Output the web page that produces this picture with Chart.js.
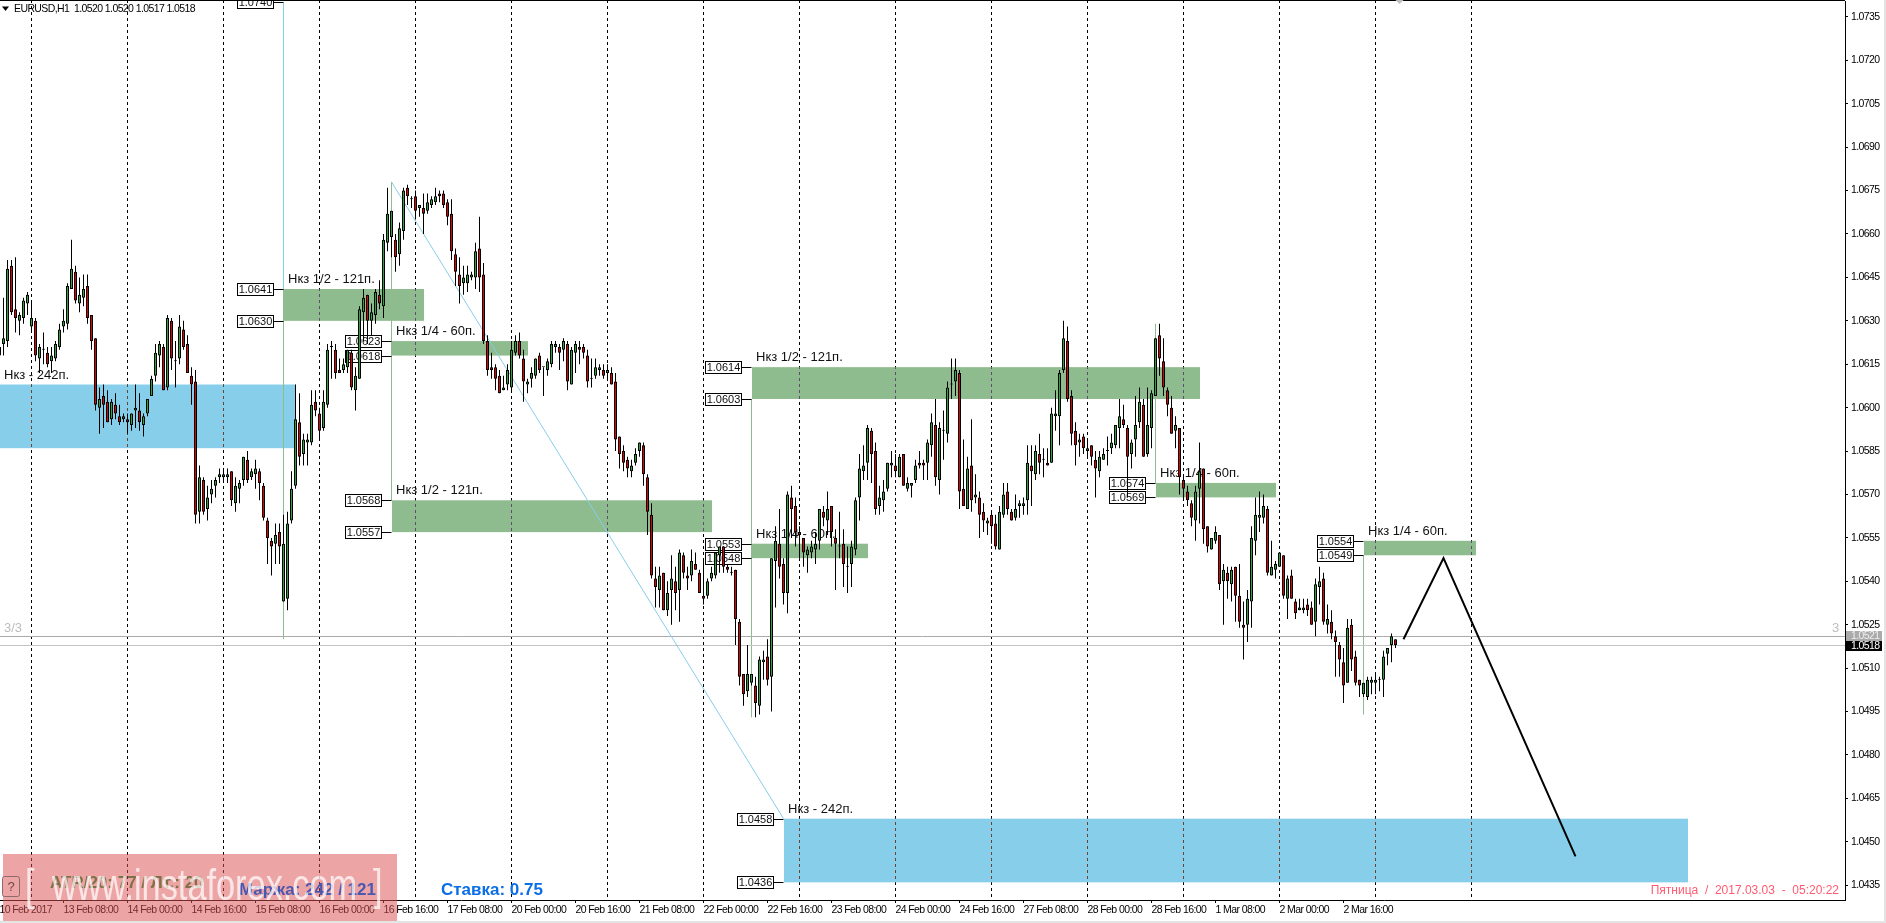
<!DOCTYPE html>
<html><head><meta charset="utf-8">
<style>html,body{margin:0;padding:0;background:#fff;overflow:hidden}canvas{display:block}</style>
<script src="https://cdn.jsdelivr.net/npm/chart.js@4/dist/chart.umd.min.js"></script>
</head><body><canvas id="c" width="1886" height="923"></canvas>
<script>
const opens=[1.0618,1.0622,1.0623,1.0649,1.0634,1.0630,1.0631,1.0636,1.0628,1.0630,
1.0617,1.0620,1.0619,1.0616,1.0617,1.0621,1.0628,1.0629,1.0641,1.0647,
1.0636,1.0638,1.0642,1.0632,1.0624,1.0600,1.0604,1.0602,1.0596,1.0601,
1.0597,1.0596,1.0596,1.0594,1.0599,1.0599,1.0594,1.0598,1.0604,1.0611,
1.0618,1.0621,1.0607,1.0630,1.0616,1.0617,1.0627,1.0622,1.0611,1.0609,
1.0564,1.0575,1.0565,1.0570,1.0573,1.0576,1.0576,1.0576,1.0578,1.0567,
1.0572,1.0575,1.0582,1.0576,1.0577,1.0578,1.0573,1.0561,1.0554,1.0553,
1.0557,1.0533,1.0534,1.0561,1.0573,1.0595,1.0584,1.0588,1.0588,1.0602,
1.0598,1.0593,1.0601,1.0621,1.0620,1.0613,1.0613,1.0614,1.0619,1.0606,
1.0610,1.0633,1.0639,1.0630,1.0632,1.0639,1.0635,1.0657,1.0659,1.0658,
1.0653,1.0661,1.0676,1.0672,1.0673,1.0669,1.0669,1.0668,1.0670,1.0671,
1.0674,1.0674,1.0671,1.0667,1.0653,1.0646,1.0643,1.0643,1.0645,1.0645,
1.0655,1.0646,1.0623,1.0614,1.0614,1.0611,1.0606,1.0608,1.0607,1.0619,
1.0623,1.0617,1.0608,1.0610,1.0611,1.0618,1.0614,1.0613,1.0615,1.0621,
1.0621,1.0620,1.0622,1.0608,1.0619,1.0621,1.0621,1.0618,1.0610,1.0611,
1.0613,1.0613,1.0612,1.0612,1.0609,1.0590,1.0585,1.0582,1.0578,1.0581,
1.0585,1.0587,1.0576,1.0563,1.0541,1.0537,1.0543,1.0530,1.0537,1.0540,
1.0537,1.0549,1.0542,1.0542,1.0546,1.0543,1.0535,1.0535,1.0541,1.0542,
1.0549,1.0552,1.0545,1.0543,1.0544,1.0526,1.0508,1.0502,1.0505,1.0504,
1.0497,1.0512,1.0514,1.0507,1.0547,1.0553,1.0546,1.0536,1.0569,1.0566,
1.0557,1.0555,1.0549,1.0550,1.0551,1.0554,1.0564,1.0561,1.0566,1.0555,
1.0552,1.0553,1.0545,1.0546,1.0551,1.0569,1.0578,1.0581,1.0592,1.0585,
1.0566,1.0568,1.0572,1.0580,1.0580,1.0576,1.0584,1.0572,1.0573,1.0575,
1.0581,1.0581,1.0581,1.0587,1.0594,1.0575,1.0592,1.0591,1.0608,1.0609,
1.0612,1.0572,1.0565,1.0580,1.0569,1.0569,1.0564,1.0560,1.0563,1.0560,
1.0551,1.0563,1.0571,1.0564,1.0562,1.0566,1.0566,1.0568,1.0580,1.0577,
1.0584,1.0582,1.0581,1.0581,1.0597,1.0597,1.0613,1.0623,1.0604,1.0592,
1.0588,1.0590,1.0585,1.0587,1.0582,1.0578,1.0582,1.0585,1.0586,1.0587,
1.0593,1.0596,1.0593,1.0584,1.0589,1.0595,1.0601,1.0584,1.0593,1.0604,
1.0625,1.0616,1.0606,1.0600,1.0592,1.0593,1.0575,1.0571,1.0567,1.0561,
1.0572,1.0579,1.0559,1.0551,1.0554,1.0556,1.0540,1.0543,1.0539,1.0545,
1.0535,1.0525,1.0525,1.0533,1.0554,1.0562,1.0562,1.0565,1.0542,1.0544,
1.0545,1.0549,1.0534,1.0542,1.0533,1.0530,1.0530,1.0532,1.0531,1.0526,
1.0538,1.0541,1.0525,1.0526,1.0521,1.0518,1.0512,1.0505,1.0525,1.0514,
1.0506,1.0501,1.0500,1.0505,1.0505,1.0506,1.0506,1.0515,1.0518,1.0520];
const highs=[1.0621,1.0638,1.0651,1.0651,1.0652,1.0633,1.0638,1.0640,1.0637,1.0631,
1.0622,1.0626,1.0621,1.0621,1.0623,1.0629,1.0634,1.0643,1.0658,1.0649,
1.0645,1.0646,1.0646,1.0632,1.0624,1.0607,1.0608,1.0606,1.0603,1.0605,
1.0601,1.0598,1.0598,1.0598,1.0608,1.0605,1.0598,1.0603,1.0611,1.0622,
1.0623,1.0622,1.0632,1.0631,1.0623,1.0632,1.0630,1.0625,1.0614,1.0613,
1.0580,1.0576,1.0573,1.0575,1.0576,1.0579,1.0579,1.0579,1.0578,1.0576,
1.0575,1.0583,1.0585,1.0579,1.0582,1.0579,1.0574,1.0562,1.0555,1.0560,
1.0560,1.0563,1.0564,1.0578,1.0608,1.0605,1.0591,1.0591,1.0606,1.0606,
1.0600,1.0606,1.0622,1.0623,1.0622,1.0617,1.0617,1.0620,1.0620,1.0614,
1.0635,1.0641,1.0639,1.0636,1.0641,1.0644,1.0660,1.0676,1.0668,1.0660,
1.0664,1.0676,1.0677,1.0673,1.0675,1.0670,1.0674,1.0674,1.0673,1.0676,
1.0675,1.0675,1.0672,1.0672,1.0655,1.0652,1.0649,1.0649,1.0647,1.0657,
1.0666,1.0650,1.0625,1.0619,1.0615,1.0613,1.0611,1.0615,1.0623,1.0625,
1.0626,1.0620,1.0610,1.0614,1.0617,1.0619,1.0614,1.0617,1.0623,1.0623,
1.0622,1.0624,1.0623,1.0621,1.0623,1.0623,1.0622,1.0620,1.0617,1.0617,
1.0615,1.0615,1.0615,1.0614,1.0612,1.0590,1.0587,1.0583,1.0582,1.0586,
1.0588,1.0588,1.0577,1.0567,1.0545,1.0545,1.0543,1.0540,1.0549,1.0545,
1.0551,1.0550,1.0545,1.0551,1.0550,1.0544,1.0547,1.0541,1.0545,1.0550,
1.0552,1.0552,1.0546,1.0545,1.0544,1.0527,1.0508,1.0518,1.0508,1.0507,
1.0514,1.0516,1.0520,1.0548,1.0559,1.0565,1.0548,1.0571,1.0573,1.0569,
1.0559,1.0555,1.0552,1.0554,1.0557,1.0565,1.0566,1.0571,1.0566,1.0558,
1.0564,1.0558,1.0552,1.0554,1.0569,1.0584,1.0587,1.0594,1.0593,1.0588,
1.0573,1.0575,1.0581,1.0585,1.0584,1.0584,1.0584,1.0576,1.0574,1.0582,
1.0585,1.0582,1.0589,1.0598,1.0603,1.0595,1.0599,1.0609,1.0617,1.0617,
1.0613,1.0589,1.0583,1.0596,1.0577,1.0571,1.0567,1.0562,1.0564,1.0563,
1.0566,1.0574,1.0574,1.0565,1.0570,1.0568,1.0569,1.0587,1.0587,1.0587,
1.0591,1.0586,1.0586,1.0600,1.0606,1.0613,1.0630,1.0628,1.0606,1.0595,
1.0591,1.0591,1.0589,1.0587,1.0585,1.0585,1.0586,1.0590,1.0591,1.0594,
1.0603,1.0601,1.0594,1.0589,1.0604,1.0607,1.0603,1.0607,1.0606,1.0624,
1.0629,1.0624,1.0607,1.0604,1.0597,1.0593,1.0577,1.0573,1.0568,1.0573,
1.0588,1.0579,1.0559,1.0555,1.0559,1.0556,1.0546,1.0545,1.0545,1.0545,
1.0546,1.0533,1.0537,1.0559,1.0569,1.0571,1.0570,1.0566,1.0554,1.0547,
1.0550,1.0549,1.0542,1.0544,1.0534,1.0534,1.0534,1.0534,1.0533,1.0541,
1.0545,1.0543,1.0532,1.0530,1.0523,1.0519,1.0517,1.0527,1.0527,1.0516,
1.0506,1.0505,1.0507,1.0507,1.0508,1.0507,1.0516,1.0517,1.0522,1.0520];
const lows=[1.0618,1.0618,1.0621,1.0632,1.0626,1.0625,1.0629,1.0632,1.0626,1.0616,
1.0612,1.0615,1.0614,1.0612,1.0616,1.0620,1.0626,1.0627,1.0641,1.0636,
1.0633,1.0635,1.0629,1.0620,1.0599,1.0591,1.0593,1.0595,1.0594,1.0596,
1.0594,1.0595,1.0591,1.0592,1.0593,1.0592,1.0590,1.0597,1.0604,1.0609,
1.0614,1.0606,1.0606,1.0613,1.0607,1.0615,1.0620,1.0612,1.0601,1.0560,
1.0560,1.0563,1.0561,1.0567,1.0569,1.0574,1.0574,1.0574,1.0566,1.0564,
1.0567,1.0573,1.0574,1.0575,1.0572,1.0568,1.0561,1.0546,1.0542,1.0546,
1.0546,1.0533,1.0530,1.0560,1.0572,1.0580,1.0580,1.0580,1.0587,1.0597,
1.0589,1.0592,1.0600,1.0610,1.0610,1.0612,1.0612,1.0612,1.0606,1.0599,
1.0610,1.0623,1.0622,1.0625,1.0629,1.0634,1.0631,1.0654,1.0652,1.0647,
1.0649,1.0658,1.0670,1.0669,1.0665,1.0666,1.0660,1.0667,1.0669,1.0670,
1.0671,1.0669,1.0663,1.0651,1.0642,1.0636,1.0639,1.0640,1.0644,1.0641,
1.0640,1.0622,1.0611,1.0610,1.0606,1.0605,1.0606,1.0606,1.0606,1.0618,
1.0617,1.0602,1.0605,1.0607,1.0610,1.0612,1.0604,1.0611,1.0614,1.0619,
1.0613,1.0616,1.0606,1.0608,1.0612,1.0615,1.0617,1.0607,1.0607,1.0610,
1.0611,1.0610,1.0610,1.0608,1.0585,1.0579,1.0578,1.0576,1.0576,1.0580,
1.0583,1.0573,1.0556,1.0541,1.0531,1.0531,1.0530,1.0528,1.0525,1.0530,
1.0526,1.0541,1.0537,1.0540,1.0544,1.0536,1.0532,1.0534,1.0540,1.0541,
1.0543,1.0543,1.0543,1.0542,1.0518,1.0504,1.0497,1.0500,1.0504,1.0493,
1.0494,1.0506,1.0504,1.0495,1.0531,1.0541,1.0532,1.0529,1.0555,1.0552,
1.0548,1.0545,1.0543,1.0548,1.0546,1.0551,1.0559,1.0556,1.0552,1.0537,
1.0548,1.0538,1.0536,1.0538,1.0549,1.0561,1.0575,1.0575,1.0574,1.0563,
1.0563,1.0564,1.0571,1.0576,1.0576,1.0576,1.0573,1.0571,1.0569,1.0574,
1.0579,1.0575,1.0575,1.0583,1.0573,1.0570,1.0582,1.0588,1.0603,1.0604,
1.0565,1.0566,1.0565,1.0564,1.0567,1.0555,1.0557,1.0556,1.0553,1.0551,
1.0551,1.0562,1.0563,1.0561,1.0561,1.0562,1.0563,1.0563,1.0566,1.0575,
1.0577,1.0576,1.0580,1.0581,1.0592,1.0587,1.0612,1.0602,1.0587,1.0580,
1.0583,1.0584,1.0583,1.0580,1.0569,1.0576,1.0582,1.0580,1.0584,1.0586,
1.0586,1.0593,1.0569,1.0579,1.0583,1.0593,1.0583,1.0583,1.0586,1.0604,
1.0611,1.0604,1.0597,1.0591,1.0586,1.0570,1.0568,1.0566,1.0559,1.0554,
1.0560,1.0553,1.0550,1.0551,1.0553,1.0537,1.0525,1.0534,1.0533,1.0526,
1.0524,1.0513,1.0519,1.0524,1.0549,1.0557,1.0560,1.0542,1.0542,1.0541,
1.0545,1.0534,1.0527,1.0534,1.0527,1.0530,1.0529,1.0528,1.0525,1.0521,
1.0532,1.0525,1.0522,1.0520,1.0507,1.0507,1.0498,1.0505,1.0509,1.0504,
1.0500,1.0500,1.0499,1.0501,1.0501,1.0502,1.0500,1.0511,1.0512,1.0517];
const closes=[1.0621,1.0624,1.0648,1.0633,1.0631,1.0632,1.0637,1.0639,1.0631,1.0618,
1.0621,1.0620,1.0615,1.0618,1.0622,1.0627,1.0630,1.0642,1.0648,1.0637,
1.0639,1.0641,1.0631,1.0623,1.0601,1.0603,1.0601,1.0595,1.0602,1.0598,
1.0595,1.0597,1.0595,1.0598,1.0600,1.0595,1.0597,1.0603,1.0610,1.0619,
1.0622,1.0606,1.0631,1.0617,1.0616,1.0628,1.0621,1.0612,1.0608,1.0563,
1.0576,1.0564,1.0569,1.0572,1.0575,1.0577,1.0577,1.0577,1.0568,1.0573,
1.0574,1.0583,1.0575,1.0578,1.0579,1.0574,1.0562,1.0555,1.0552,1.0556,
1.0552,1.0553,1.0560,1.0572,1.0596,1.0583,1.0589,1.0589,1.0601,1.0599,
1.0592,1.0602,1.0620,1.0621,1.0612,1.0612,1.0615,1.0620,1.0607,1.0611,
1.0634,1.0638,1.0630,1.0633,1.0640,1.0636,1.0658,1.0667,1.0668,1.0652,
1.0662,1.0675,1.0673,1.0672,1.0668,1.0670,1.0667,1.0671,1.0672,1.0673,
1.0673,1.0670,1.0666,1.0654,1.0647,1.0642,1.0645,1.0646,1.0646,1.0654,
1.0645,1.0623,1.0613,1.0613,1.0610,1.0605,1.0607,1.0613,1.0620,1.0623,
1.0618,1.0609,1.0609,1.0612,1.0617,1.0613,1.0614,1.0616,1.0622,1.0622,
1.0619,1.0623,1.0609,1.0620,1.0622,1.0620,1.0619,1.0609,1.0610,1.0614,
1.0614,1.0611,1.0613,1.0608,1.0589,1.0584,1.0581,1.0579,1.0580,1.0584,
1.0588,1.0577,1.0564,1.0542,1.0538,1.0542,1.0530,1.0536,1.0541,1.0536,
1.0550,1.0543,1.0541,1.0547,1.0544,1.0536,1.0534,1.0540,1.0543,1.0550,
1.0552,1.0545,1.0544,1.0543,1.0527,1.0507,1.0501,1.0508,1.0508,1.0498,
1.0513,1.0513,1.0506,1.0548,1.0554,1.0545,1.0536,1.0570,1.0565,1.0557,
1.0556,1.0550,1.0551,1.0552,1.0553,1.0565,1.0562,1.0565,1.0557,1.0553,
1.0552,1.0546,1.0545,1.0552,1.0568,1.0579,1.0580,1.0593,1.0584,1.0565,
1.0569,1.0571,1.0581,1.0581,1.0578,1.0583,1.0573,1.0574,1.0574,1.0580,
1.0580,1.0580,1.0588,1.0595,1.0576,1.0593,1.0592,1.0607,1.0608,1.0613,
1.0571,1.0566,1.0579,1.0568,1.0570,1.0563,1.0561,1.0561,1.0559,1.0552,
1.0564,1.0570,1.0565,1.0561,1.0565,1.0567,1.0567,1.0581,1.0578,1.0585,
1.0581,1.0582,1.0580,1.0598,1.0598,1.0612,1.0624,1.0603,1.0591,1.0587,
1.0589,1.0586,1.0586,1.0583,1.0579,1.0583,1.0584,1.0585,1.0588,1.0594,
1.0597,1.0594,1.0583,1.0588,1.0594,1.0602,1.0583,1.0594,1.0605,1.0624,
1.0617,1.0607,1.0601,1.0591,1.0594,1.0576,1.0572,1.0568,1.0562,1.0571,
1.0578,1.0558,1.0552,1.0555,1.0557,1.0539,1.0544,1.0540,1.0544,1.0535,
1.0526,1.0524,1.0534,1.0555,1.0563,1.0563,1.0566,1.0543,1.0545,1.0546,
1.0550,1.0535,1.0541,1.0534,1.0529,1.0531,1.0531,1.0530,1.0525,1.0539,
1.0540,1.0526,1.0527,1.0522,1.0519,1.0513,1.0504,1.0524,1.0513,1.0505,
1.0504,1.0505,1.0506,1.0506,1.0506,1.0506,1.0514,1.0517,1.0521,1.0518];

const xTickLabels=["10 Feb 2017","13 Feb 08:00","14 Feb 00:00","14 Feb 16:00","15 Feb 08:00","16 Feb 00:00","16 Feb 16:00","17 Feb 08:00","20 Feb 00:00","20 Feb 16:00","21 Feb 08:00","22 Feb 00:00","22 Feb 16:00","23 Feb 08:00","24 Feb 00:00","24 Feb 16:00","27 Feb 08:00","28 Feb 00:00","28 Feb 16:00","1 Mar 08:00","2 Mar 00:00","2 Mar 16:00"];
const xTickBars=[0,16,32,48,64,80,96,112,128,144,160,176,192,208,224,240,256,272,288,304,320,336];
const yTickPrices=[1.0735,1.0720,1.0705,1.0690,1.0675,1.0660,1.0645,1.0630,1.0615,1.0600,1.0585,1.0570,1.0555,1.0540,1.0525,1.0510,1.0495,1.0480,1.0465,1.0450,1.0435];
const separatorBars=[8,32,56,80,104,128,152,176,200,224,248,272,296,320,344,368];
const zoneStart=[null,71,98,98,188,188,289,341,196];
const zoneEnd=[74,106,132,178,300,217,319,369,422];
const zoneHigh=[1.0608,1.0641,1.0623,1.0568,1.0614,1.0553,1.0574,1.0554,1.0458];
const zoneLow=[1.0586,1.0630,1.0618,1.0557,1.0603,1.0548,1.0569,1.0549,1.0436];
const zoneText=["Нкз - 242п.","Нкз 1/2 - 121п.","Нкз 1/4 - 60п.","Нкз 1/2 - 121п.","Нкз 1/2 - 121п.","Нкз 1/4 - 60п.","Нкз 1/4 - 60п.","Нкз 1/4 - 60п.","Нкз - 242п."];
const zoneKind=["b","g","g","g","g","g","g","g","b"];
const tagBars=[71,71,71,98,98,98,98,188,188,188,188,289,289,341,341,196,196];
const tagPrices=[1.0740,1.0641,1.0630,1.0623,1.0618,1.0568,1.0557,1.0614,1.0603,1.0553,1.0548,1.0574,1.0569,1.0554,1.0549,1.0458,1.0436];
const vertBars=[71,71,98,188,289,341];
const vertFrom=[1.0740,1.0641,1.0678,1.0603,1.0629,1.0549];
const vertTo=[1.0641,1.0520,1.0568,1.0493,1.0574,1.0494];
const vertKind=["b","g","g","g","g","g"];
const diagonalBars=[98,196], diagonalPrices=[1.0678,1.0458];
const forecastBars=[351,361,394], forecastPrices=[1.0520,1.0548,1.0445];
const askPrice=1.0521, bidPrice=1.0518;

const SKY='#87CEEB', SEA='#8FBC8F', UP='#2aa63a', DOWN='#e00000';
const NARROW="'Liberation Sans',Arial,sans-serif", SANS="'Liberation Sans',Arial,sans-serif";
const barIdx=opens.map((_,i)=>i);

const objects={id:'objects',
 beforeDraw(c){const g=c.ctx;g.save();g.fillStyle='#fff';g.fillRect(0,0,1886,923);
  g.fillStyle='#e4e4e4';g.fillRect(0,921,1886,2);g.fillRect(1884,0,2,923);g.restore();
  g.letterSpacing='-0.6px';},
 beforeDatasetsDraw(c){
  const g=c.ctx,X=c.scales.x,Y=c.scales.y,A=c.chartArea;
  g.letterSpacing='0px';
  g.save();g.beginPath();g.rect(0,0,A.right,A.bottom);g.clip();
  g.setLineDash([3,3]);g.strokeStyle='#000';g.lineWidth=1;
  const seps=(col)=>{g.strokeStyle=col;g.beginPath();separatorBars.forEach(b=>{const x=X.getPixelForValue(b);g.moveTo(x,0);g.lineTo(x,A.bottom);});g.stroke();};
  seps('#000');
  g.setLineDash([]);
  zoneHigh.forEach((h,k)=>{
   const x1=zoneStart[k]===null?A.left:Math.round(X.getPixelForValue(zoneStart[k])),x2=Math.round(X.getPixelForValue(zoneEnd[k]));
   const y1=Y.getPixelForValue(h),y2=Y.getPixelForValue(zoneLow[k]);
   g.fillStyle=zoneKind[k]==='b'?SKY:SEA;g.fillRect(x1,y1,x2-x1,y2-y1);
   g.save();g.beginPath();g.rect(x1,y1,x2-x1,y2-y1);g.clip();g.setLineDash([3,3]);
   seps(zoneKind[k]==='b'?'#6e4030':'#5f4a72');g.restore();
  });
  vertBars.forEach((b,k)=>{const x=X.getPixelForValue(b);g.strokeStyle=vertKind[k]==='b'?SKY:SEA;g.lineWidth=1;
   g.beginPath();g.moveTo(x,Y.getPixelForValue(vertFrom[k]));g.lineTo(x,Y.getPixelForValue(vertTo[k]));g.stroke();});
  g.strokeStyle='#ababab';g.beginPath();g.moveTo(0,Math.round(Y.getPixelForValue(askPrice))+.5);g.lineTo(A.right,Math.round(Y.getPixelForValue(askPrice))+.5);g.stroke();
  g.strokeStyle='#c4c4c4';g.beginPath();g.moveTo(0,Math.round(Y.getPixelForValue(bidPrice))+.5);g.lineTo(A.right,Math.round(Y.getPixelForValue(bidPrice))+.5);g.stroke();
  g.font='13px '+SANS;g.fillStyle='#111';g.textBaseline='middle';g.textAlign='left';
  zoneText.forEach((t,k)=>{const x=zoneStart[k]===null?4:X.getPixelForValue(zoneStart[k])+4.5;
   g.fillText(t,x,Y.getPixelForValue(zoneHigh[k])-9.5);});
  g.font='11px '+SANS;
  tagBars.forEach((b,k)=>{const x=X.getPixelForValue(b),y=Math.round(Y.getPixelForValue(tagPrices[k]))+.5;
   g.strokeStyle='#000';g.lineWidth=1;g.fillStyle='#fff';
   g.beginPath();g.moveTo(x-10,y);g.lineTo(x,y);g.stroke();
   g.fillRect(x-46,y-6,36,12);g.strokeRect(x-46,y-6,36,12);
   g.fillStyle='#111';g.textAlign='center';g.fillText(tagPrices[k].toFixed(4),x-28,y+.5);});
  g.textAlign='left';g.font='10.5px '+NARROW;g.fillStyle='#000';g.letterSpacing='-0.6px';
  g.fillText('EURUSD,H1',14,9);
  g.fillText('1.0520 1.0520 1.0517 1.0518',74,9);
  g.letterSpacing='0px';
  g.beginPath();g.moveTo(2,6.5);g.lineTo(9,6.5);g.lineTo(5.5,11);g.closePath();g.fill();
  g.fillStyle='#bdbdbd';g.font='13px '+SANS;g.fillText('3/3',4,628);g.fillText('3',1832,628);
  g.restore();
 },
 afterDraw(c){
  const g=c.ctx,X=c.scales.x,Y=c.scales.y,A=c.chartArea;
  g.save();
  g.fillStyle='#000';g.fillRect(0,0,A.right,1);
  g.fillStyle='#bdbdbd';const mx=X.getPixelForValue(350);g.beginPath();g.moveTo(mx-4,0);g.lineTo(mx+4,0);g.lineTo(mx,4);g.closePath();g.fill();
  g.font='10.5px '+NARROW;g.textBaseline='middle';g.textAlign='left';g.letterSpacing='-0.6px';
  g.fillStyle='#ababab';g.fillRect(1846,631,36,10);g.fillStyle='#eee';g.fillText(askPrice.toFixed(4),1851,636.5);
  g.fillStyle='#000';g.fillRect(1846,641,36,10);g.fillStyle='#fff';g.fillText(bidPrice.toFixed(4),1851,646);
  g.letterSpacing='0px';
  g.font='12px '+SANS;g.fillStyle='#ff5a70';g.textAlign='right';
  g.fillText('Пятница  /  2017.03.03  -  05:20:22',1839,891);
  g.fillStyle='rgba(221,80,80,0.52)';g.fillRect(3,854,394,67);
  g.textAlign='left';
  g.font='bold 17px '+SANS;
  g.fillStyle='#7f7048';g.fillText('ATR/20: 77 / Лт.: 20',50,883);
  g.fillStyle='#4a57b0';g.fillText('Маржа: 242 / 121',239,890);
  g.fillStyle='#0a6ee6';g.fillText('Ставка: 0.75',441,890);
  g.strokeStyle='#8a6a6a';g.lineWidth=1;g.beginPath();g.roundRect(2.5,876.5,17,20,2);g.stroke();
  g.fillStyle='#6b4a4a';g.font='13px '+SANS;g.textAlign='center';g.fillText('?',11,887);
  g.fillStyle='rgba(255,255,255,0.72)';g.textAlign='left';g.textBaseline='alphabetic';
  g.translate(0,900);g.scale(.78,1);g.font='44px '+SANS;
  g.fillText('[',25/.78,0);g.fillText('www.instaforex.com',52/.78,0);g.fillText(']',373/.78,0);
  g.restore();
 }};

new Chart(document.getElementById('c'),{
 type:'bar',
 data:{datasets:[
  {type:'line',label:'forecast',data:forecastBars.map((b,i)=>({x:b,y:forecastPrices[i]})),borderColor:'#000',borderWidth:2,pointRadius:0,tension:0,order:1},
  {label:'body',data:barIdx.map(i=>({x:i,y:[opens[i],closes[i]]})),
   backgroundColor:barIdx.map(i=>closes[i]>opens[i]?UP:closes[i]<opens[i]?DOWN:'#000'),
   borderColor:'#000',borderWidth:1,borderSkipped:false,barThickness:3,minBarLength:1,grouped:false,inflateAmount:0,order:2},
  {label:'wick',data:barIdx.map(i=>({x:i,y:[lows[i],highs[i]]})),backgroundColor:'#000',borderWidth:0,barThickness:1,grouped:false,inflateAmount:0,order:3},
  {type:'line',label:'diagonal',data:diagonalBars.map((b,i)=>({x:b,y:diagonalPrices[i]})),borderColor:SKY,borderWidth:1,pointRadius:0,tension:0,order:4}
 ]},
 options:{responsive:false,animation:false,devicePixelRatio:1,
  layout:{padding:{top:1,left:0,right:0,bottom:0}},
  plugins:{legend:{display:false},tooltip:{enabled:false}},
  events:[],
  scales:{
   x:{type:'linear',position:'bottom',min:0.125,max:461.375,offset:false,bounds:'data',
    afterBuildTicks(s){s.ticks=xTickBars.map(v=>({value:v}));},
    afterFit(s){s.height=23;s.paddingLeft=0;s.paddingRight=0;s.paddingTop=0;s.paddingBottom=0;},
    grid:{display:true,offset:false,drawOnChartArea:false,drawTicks:true,tickLength:3,color:'#000'},
    border:{display:true,color:'#000',width:1},
    ticks:{autoSkip:false,maxRotation:0,minRotation:0,align:'start',padding:1,color:'#000',font:{family:NARROW,size:10.5},
     callback(v,i){return xTickLabels[i];}}},
   y:{type:'linear',position:'right',min:1.04299,max:1.07405,bounds:'data',
    afterBuildTicks(s){s.ticks=yTickPrices.map(v=>({value:v}));},
    afterFit(s){s.width=41;s.paddingLeft=0;s.paddingRight=0;s.paddingTop=0;s.paddingBottom=0;},
    grid:{display:true,drawOnChartArea:false,drawTicks:true,tickLength:3,color:'#000'},
    border:{display:true,color:'#000',width:1},
    ticks:{autoSkip:false,padding:3,color:'#000',font:{family:NARROW,size:10.5},callback(v){return Number(v).toFixed(4);}}}
  }
 },
 plugins:[objects]
});
</script></body></html>
